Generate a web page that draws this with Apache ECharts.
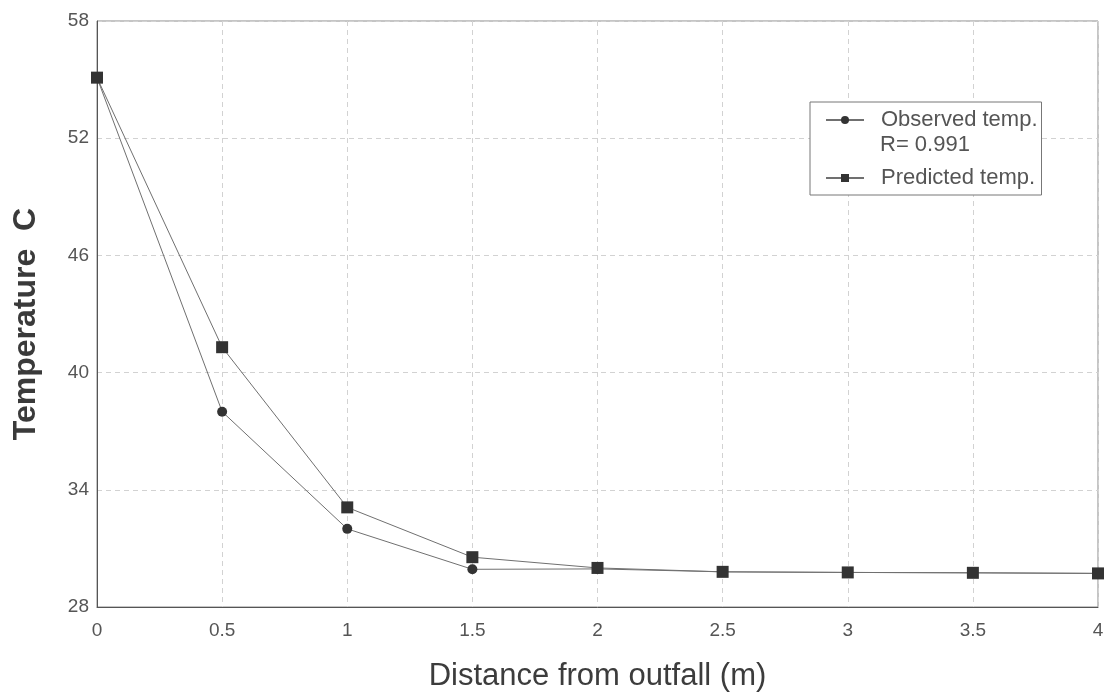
<!DOCTYPE html>
<html>
<head>
<meta charset="utf-8">
<script src="https://cdn.jsdelivr.net/npm/echarts@6/dist/echarts.min.js"></script>
<style>
  html, body { margin: 0; padding: 0; background: #fff; }
  #chart { width: 1105px; height: 696px; }
</style>
</head>
<body>
<div id="chart"></div>
<script>
// Distance from the outfall (m)
const distance = [0, 0.5, 1, 1.5, 2, 2.5, 3, 3.5, 4];
// Measured and modelled water temperature (C)
const observedTemp = [55.1, 38.0, 32.0, 29.93, 29.95, 29.8, 29.77, 29.75, 29.72];
const predictedTemp = [55.1, 41.3, 33.1, 30.55, 30.0, 29.8, 29.77, 29.75, 29.72];
const fitLabel = 'R= 0.991';

const pairs = (xs, ys) => xs.map((x, i) => [x, ys[i]]);

const font = 'Liberation Sans, Arial, sans-serif';
const chart = echarts.init(document.getElementById('chart'));

chart.setOption({
  backgroundColor: '#fff',
  animation: false,
  textStyle: { fontFamily: font },
  grid: {
    left: 97, right: 7, top: 21, bottom: 89,
    outerBoundsMode: 'none',
    containLabel: false,
    show: true, borderColor: '#8a8a8a', borderWidth: 1
  },
  xAxis: {
    type: 'value', min: 0, max: 4, interval: 0.5,
    name: 'Distance from outfall (m)', nameLocation: 'middle', nameGap: 54,
    nameTextStyle: { fontSize: 31, color: '#3c3c3c', fontFamily: font },
    axisLine: { lineStyle: { color: '#555' } },
    axisTick: { show: false },
    axisLabel: { fontSize: 19, color: '#555', margin: 14, fontFamily: font },
    splitLine: { show: true, lineStyle: { color: '#d2d2d2', type: [5, 4] } }
  },
  yAxis: {
    type: 'value', min: 28, max: 58, interval: 6,
    name: 'Temperature  C', nameLocation: 'middle', nameGap: 55,
    nameTextStyle: {
      fontSize: 32, fontWeight: 'bold', color: '#3a3a3a', fontFamily: font,
      padding: [0, 20, 0, 0]
    },
    axisLine: { show: true, lineStyle: { color: '#555' } },
    axisTick: { show: false },
    axisLabel: { fontSize: 19, color: '#555', margin: 8, fontFamily: font },
    splitLine: { show: true, lineStyle: { color: '#d2d2d2', type: [5, 4] } }
  },
  legend: {
    orient: 'vertical',
    left: 810, top: 102,
    padding: [6, 4, 5, 15],
    itemGap: 34,
    itemWidth: 38, itemHeight: 10,
    borderColor: '#777', borderWidth: 1,
    backgroundColor: '#fff',
    textStyle: { fontSize: 22, lineHeight: 24, color: '#555', fontFamily: font, padding: [0, 0, 0, 12] },
    data: ['Observed temp.', 'Predicted temp.']
  },
  graphic: [{
    type: 'text',
    z: 100,
    left: 880, top: 134,
    style: { text: fitLabel, fontSize: 22, fill: '#555', fontFamily: font }
  }],
  series: [
    {
      name: 'Observed temp.', type: 'line',
      data: pairs(distance, observedTemp),
      symbol: 'circle', symbolSize: 10,
      lineStyle: { color: '#707070', width: 1 },
      itemStyle: { color: '#333' },
      z: 3
    },
    {
      name: 'Predicted temp.', type: 'line',
      data: pairs(distance, predictedTemp),
      symbol: 'rect', symbolSize: 12,
      lineStyle: { color: '#707070', width: 1 },
      itemStyle: { color: '#333' },
      z: 4
    }
  ]
});
</script>
</body>
</html>
